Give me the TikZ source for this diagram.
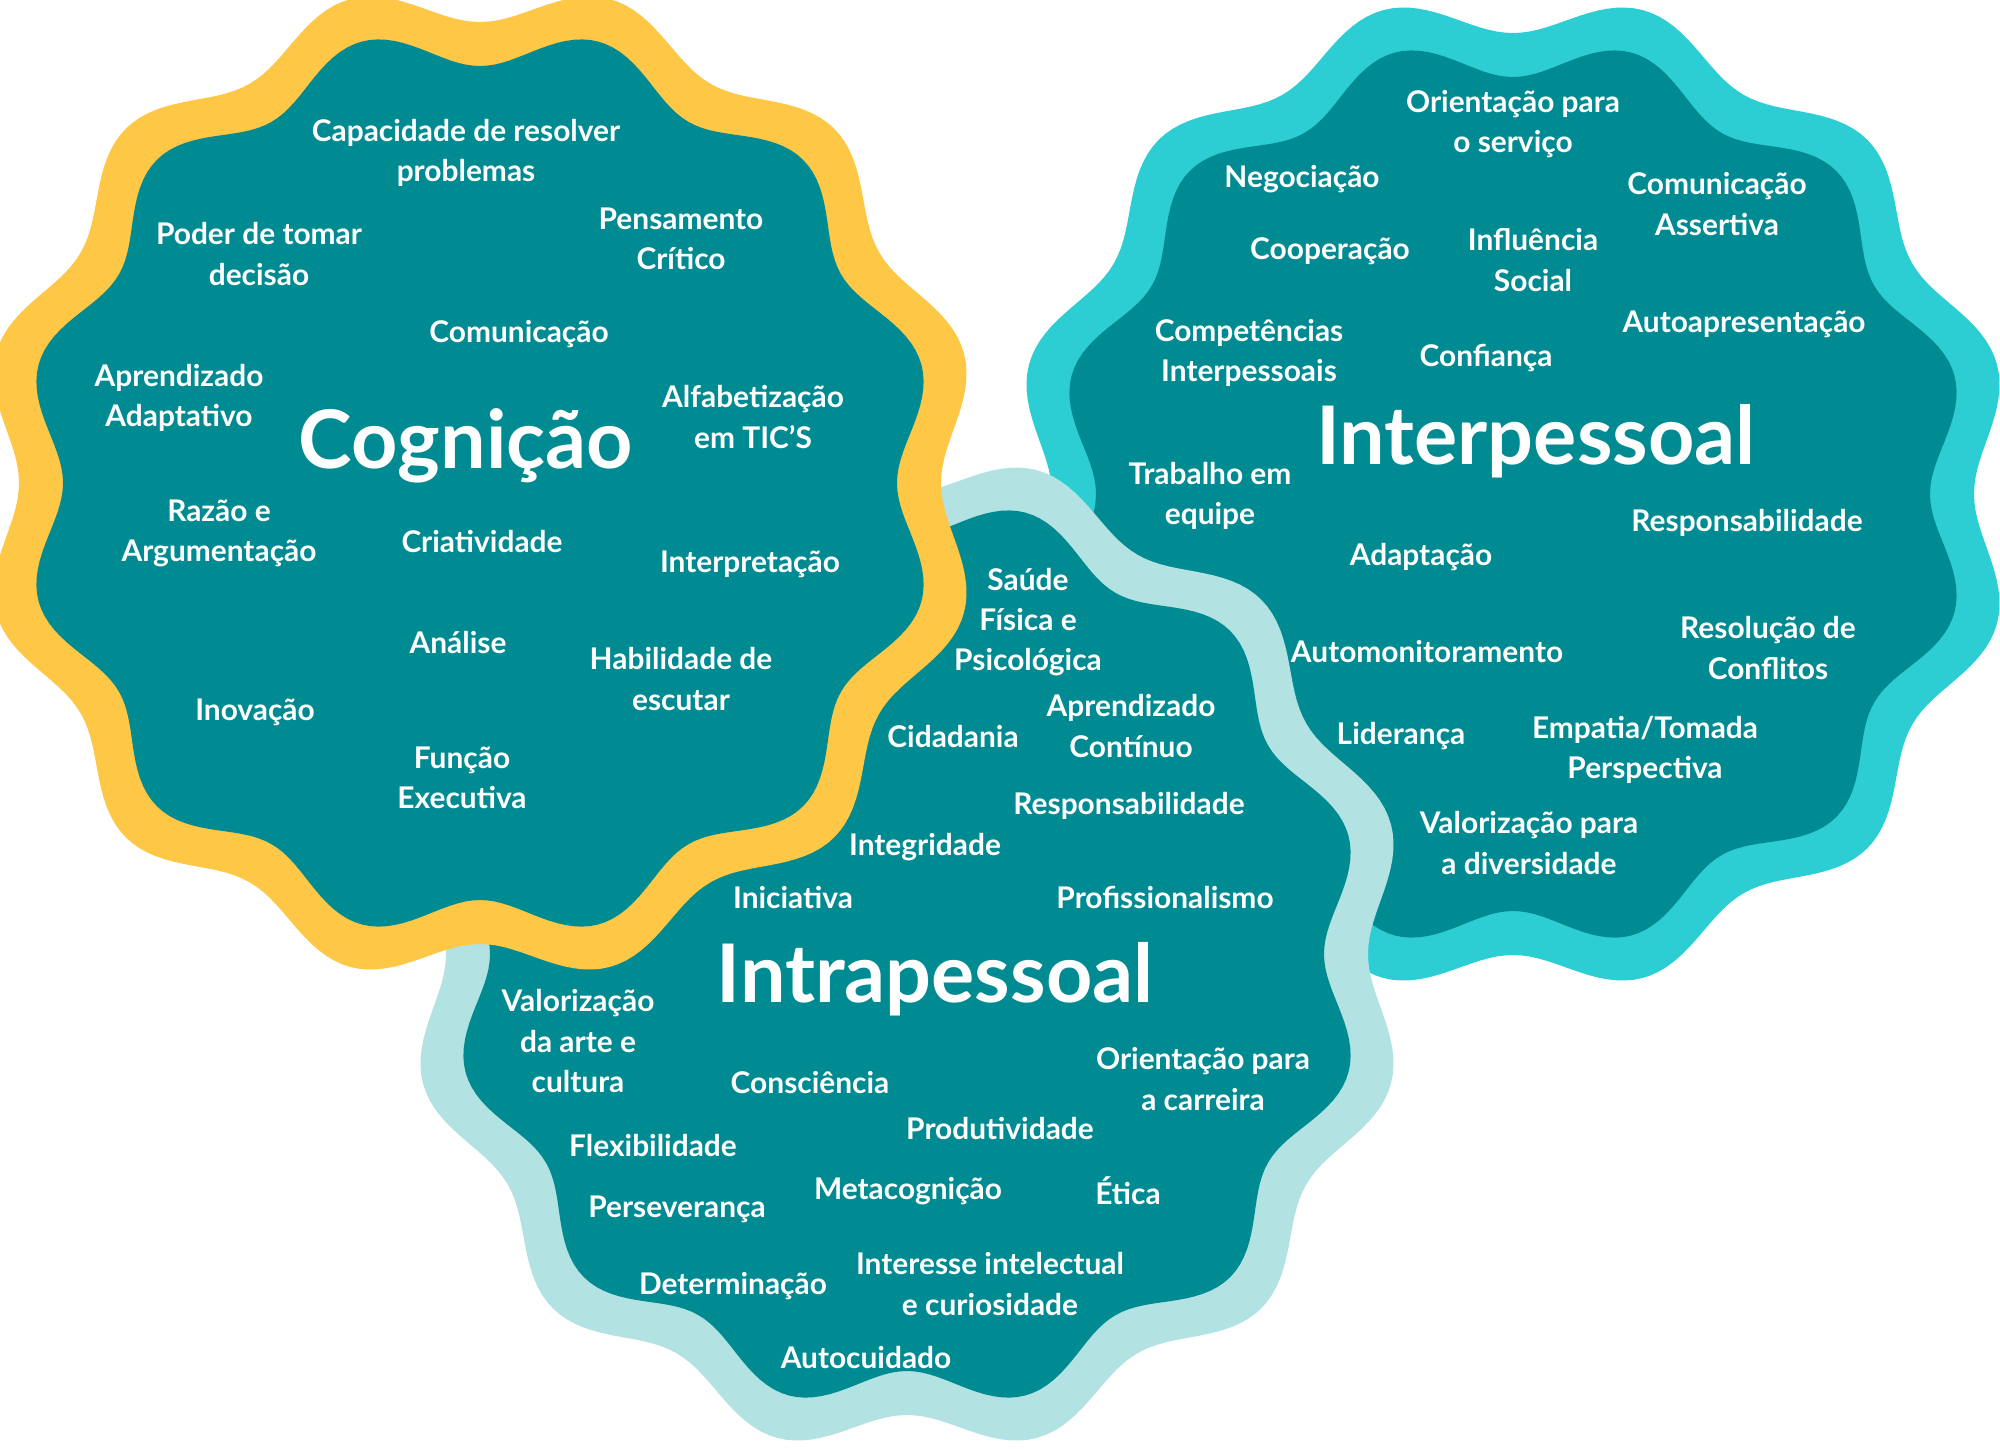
\documentclass[tikz,border=0pt]{standalone}
\usepackage{fontspec}
\setmainfont{Lato}
\definecolor{tealfill}{HTML}{008B92}
\definecolor{cogring}{HTML}{FEC746}
\definecolor{interring}{HTML}{2DCDD4}
\definecolor{intraring}{HTML}{B2E3E2}
\begin{document}
\begin{tikzpicture}[
  item/.style={text=white,align=center,font=\fontsize{8.5}{11.4}\selectfont\bfseries,inner sep=0pt},
  title/.style={text=white,font=\fontsize{23}{27}\selectfont\bfseries,inner sep=0pt}]
  \useasboundingbox (0,0) rectangle (20,-14.48);
  \clip (0,0) rectangle (20,-14.48);
  % wavy blobs: interpessoal, intrapessoal, cognicao (back to front)
  \foreach \cx/\cy/\ring in {15.13/-4.94/interring,9.07/-9.54/intraring,4.80/-4.83/cogring}{
    \fill[\ring] plot[domain=0:360,samples=361]
      ({\cx+(4.81-0.20*cos(12*\x))*cos(\x)},{\cy+(4.81-0.20*cos(12*\x))*sin(\x)}) -- cycle;
    \fill[tealfill] plot[domain=0:360,samples=361]
      ({\cx+(4.37-0.20*cos(12*\x))*cos(\x)},{\cy+(4.37-0.20*cos(12*\x))*sin(\x)}) -- cycle;
  }
  % cognicao
  \node[title] (cog) at (4.66,-4.46) {Cognição};
  \node[item] (capac) at (4.66,-1.53) {Capacidade de resolver\\problemas};
  \node[item] (poder) at (2.59,-2.54) {Poder de tomar\\decisão};
  \node[item] (pensa) at (6.81,-2.39) {Pensamento\\Crítico};
  \node[item] (comun) at (5.19,-3.34) {Comunicação};
  \node[item] (aprad) at (1.79,-3.98) {Aprendizado\\Adaptativo};
  \node[item] (alfab) at (7.53,-4.17) {Alfabetização\\em TIC'S};
  \node[item] (razao) at (2.19,-5.33) {Razão e\\Argumentação};
  \node[item] (criat) at (4.82,-5.41) {Criatividade};
  \node[item] (inter) at (7.50,-5.64) {Interpretação};
  \node[item] (anali) at (4.58,-6.42) {Análise};
  \node[item] (habil) at (6.81,-6.79) {Habilidade de\\escutar};
  \node[item] (inova) at (2.55,-7.12) {Inovação};
  \node[item] (funca) at (4.62,-7.78) {Função\\Executiva};
  % interpessoal
  \node[title] (interp) at (15.36,-4.41) {Interpessoal};
  \node[item] (orser) at (15.13,-1.24) {Orientação para\\o serviço};
  \node[item] (negoc) at (13.02,-1.79) {Negociação};
  \node[item] (comas) at (17.17,-2.04) {Comunicação\\Assertiva};
  \node[item] (coope) at (13.30,-2.51) {Cooperação};
  \node[item] (influ) at (15.33,-2.60) {Influência\\Social};
  \node[item] (compe) at (12.49,-3.53) {Competências\\Interpessoais};
  \node[item] (confi) at (14.86,-3.58) {Confiança};
  \node[item] (autoa) at (17.44,-3.24) {Autoapresentação};
  \node[item] (traba) at (12.10,-4.96) {Trabalho em\\equipe};
  \node[item] (respa) at (17.47,-5.23) {Responsabilidade};
  \node[item] (adapt) at (14.21,-5.57) {Adaptação};
  \node[item] (automo) at (14.27,-6.52) {Automonitoramento};
  \node[item] (resol) at (17.68,-6.48) {Resolução de\\Conflitos};
  \node[item] (lider) at (14.01,-7.36) {Liderança};
  \node[item] (empat) at (16.45,-7.50) {Empatia/Tomada\\Perspectiva};
  \node[item] (valdi) at (15.29,-8.43) {Valorização para\\a diversidade};
  % intrapessoal
  \node[title] (intra) at (9.35,-9.79) {Intrapessoal};
  \node[item] (saude) at (10.28,-6.22) {Saúde\\Física e\\Psicológica};
  \node[item] (cidad) at (9.53,-7.36) {Cidadania};
  \node[item] (aprco) at (11.31,-7.26) {Aprendizado\\Contínuo};
  \node[item] (respb) at (11.29,-8.06) {Responsabilidade};
  \node[item] (integ) at (9.25,-8.47) {Integridade};
  \node[item] (inici) at (7.93,-8.97) {Iniciativa};
  \node[item] (profi) at (11.65,-8.97) {Profissionalismo};
  \node[item] (valar) at (5.78,-10.41) {Valorização\\da arte e\\cultura};
  \node[item] (consc) at (8.10,-10.83) {Consciência};
  \node[item] (orcar) at (12.03,-10.79) {Orientação para\\a carreira};
  \node[item] (produ) at (10.00,-11.28) {Produtividade};
  \node[item] (flexi) at (6.53,-11.45) {Flexibilidade};
  \node[item] (perse) at (6.77,-12.09) {Perseverança};
  \node[item] (metac) at (9.08,-11.91) {Metacognição};
  \node[item] (etica) at (11.28,-11.91) {Ética};
  \node[item] (deter) at (7.33,-12.86) {Determinação};
  \node[item] (inint) at (9.90,-12.84) {Interesse intelectual\\e curiosidade};
  \node[item] (autoc) at (8.66,-13.57) {Autocuidado};
\end{tikzpicture}
\end{document}
